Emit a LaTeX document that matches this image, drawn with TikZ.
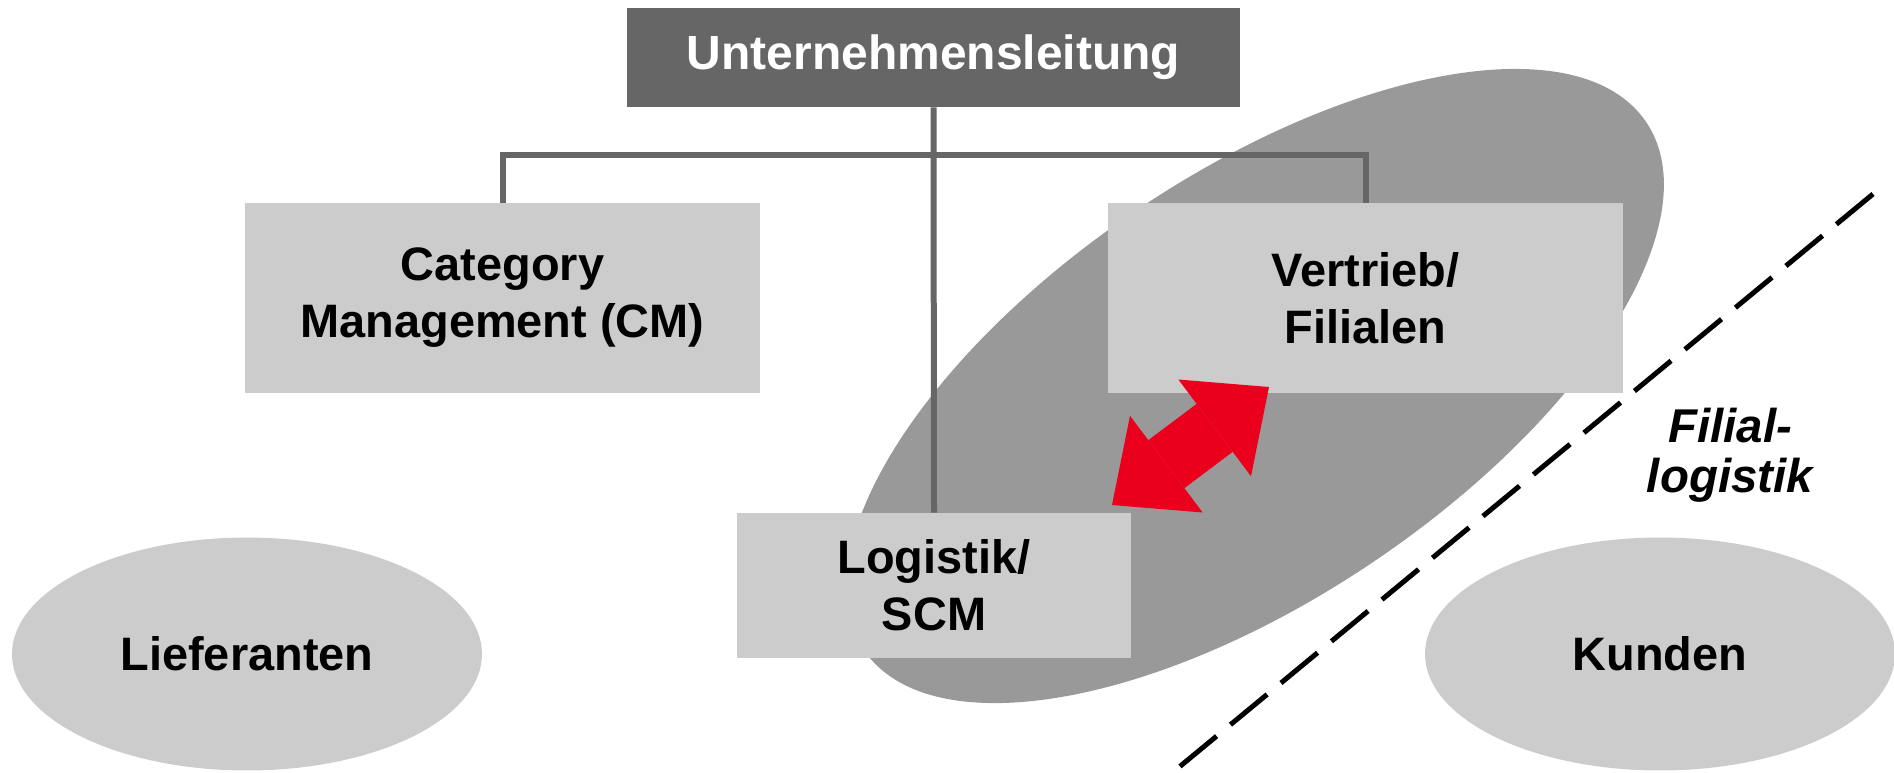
\documentclass[tikz,border=0pt]{standalone}
\usepackage{fontspec}
\setmainfont{Liberation Sans}
\usepackage{tikz}
\usetikzlibrary{arrows.meta, positioning, shapes.geometric}
\definecolor{headgray}{HTML}{666666}
\definecolor{boxgray}{HTML}{CCCCCC}
\definecolor{zonegray}{HTML}{999999}
\definecolor{signalred}{RGB}{234,0,28}
\tikzstyle{block} = [rectangle, fill=boxgray, inner sep=0pt, align=center,
  font=\bfseries\fontsize{26.7}{32.4}\selectfont]
\tikzstyle{pool} = [ellipse, fill=boxgray, inner sep=0pt, minimum width=9.4cm,
  minimum height=4.66cm, font=\bfseries\fontsize{26.7}{32.4}\selectfont]
\tikzstyle{orgline} = [draw=headgray, line width=1.2mm]
\tikzstyle{cutline} = [draw=black, line width=1mm, dash pattern=on 0.95cm off 0.36cm]
\tikzset{redtip/.tip={Triangle[width=2.42cm, length=1.36cm, line width=0pt]}}
\tikzstyle{fatarrow} = [draw=signalred, line width=1.2cm, redtip-redtip]

\begin{document}
\begin{tikzpicture}[x=0.02cm, y=-0.02cm]
    \useasboundingbox (0,0) rectangle (1894,772);
    % grey zone behind logistics and stores
    \fill[zonegray, rotate around={34:(1255,386)}] (1255,386) ellipse [x radius=9.44cm, y radius=4.24cm];
    \node[pool] (lief) at (247,654) {Lieferanten};
    \node[pool] (kund) at (1660,654) {Kunden};
    \node[block, fill=headgray, text=white, minimum width=12.26cm, minimum height=1.98cm,
      font=\bfseries\fontsize{27.3}{32}\selectfont] (ul) at (933.5,57.5) {Unternehmensleitung};
    \node[block, minimum width=10.3cm, minimum height=3.8cm] (cm) at (502.5,298) {Category\\Management (CM)};
    \node[block, minimum width=10.3cm, minimum height=3.8cm] (vf) at (1365.5,298) {Vertrieb/\\Filialen};
    \node[block, minimum width=7.88cm, minimum height=2.9cm] (log) at (934,585.5) {Logistik/\\SCM};
    \coordinate (bar) at (933.5,155);
    \draw[orgline] (ul.south) -- (log.north);
    \draw[orgline] (cm.north) |- (bar) -| (vf.north);
    % dashed border and label
    \coordinate (d1) at (1873,194);
    \coordinate (d2) at (1178,768);
    \draw[cutline] (d1) -- (d2);
    \node[align=center, font=\bfseries\itshape\fontsize{27}{28.5}\selectfont] (fl) at (1730,455) {Filial-\\logistik};
    % exchange between logistics and stores
    \coordinate (a1) at (1269,387);
    \coordinate (a2) at (1112,505);
    \draw[fatarrow] (a2) -- (a1);
  \end{tikzpicture}
\end{document}
